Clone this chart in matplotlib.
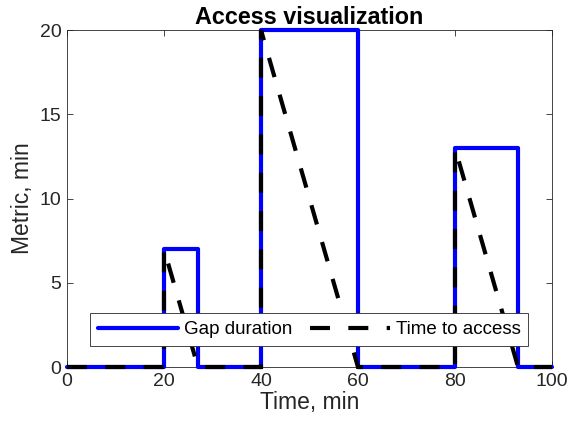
import numpy as np
import matplotlib
matplotlib.use("Agg")
import matplotlib.pyplot as plt

plt.rcParams['font.family'] = ['Liberation Sans', 'DejaVu Sans']

# Coverage gaps: start time (min) and duration (min)
gap_starts = [20, 40, 80]
gap_lengths = [7, 20, 13]
t_end = 100
x_ticks = [0, 20, 40, 60, 80, 100]
y_ticks = [0, 5, 10, 15, 20]

# Build the step series (gap duration) and the saw-tooth (time to access)
tx, gy, ay = [0], [0], [0]
for s, L in zip(gap_starts, gap_lengths):
    tx += [s, s, s + L, s + L]
    gy += [0, L, L, 0]
    ay += [0, L, 0, 0]
tx.append(t_end); gy.append(0); ay.append(0)

fig = plt.figure(figsize=(5.71, 4.29), dpi=100)
ax = fig.add_axes([0.1173, 0.1445, 0.8494, 0.7855])

dark = (0.15, 0.15, 0.15)
ax.plot(tx, gy, color='#0000ff', lw=3, label='Gap duration',
        solid_joinstyle='round', solid_capstyle='round', clip_on=False, zorder=3)
ax.plot(tx, ay, color='black', lw=3, ls=(0, (4.8, 4.4)), label='Time to access',
        dash_joinstyle='miter', clip_on=False, zorder=4)

ax.set_xlim(0, 100)
ax.set_ylim(0, 20)
ax.set_xticks(x_ticks)
ax.set_yticks(y_ticks)
ax.tick_params(direction='in', length=4, width=0.6, colors=dark, labelsize=14,
               top=True, right=True, labeltop=False, labelright=False, pad=4)
for sp in ax.spines.values():
    sp.set_color(dark)
    sp.set_linewidth(0.6)

ax.set_xlabel('Time, min', fontsize=16.5, color=dark, labelpad=1)
ax.set_ylabel('Metric, min', fontsize=16.5, color=dark, labelpad=4)
ax.set_title('Access visualization', fontsize=16.8, fontweight='bold', pad=4)

leg = ax.legend(loc='lower center', bbox_to_anchor=(0.5, 0.062), ncol=2, fontsize=13.5,
                frameon=True, fancybox=False, edgecolor=dark, framealpha=1,
                handlelength=4.27, columnspacing=0.9, borderpad=0.42,
                handletextpad=0.32, borderaxespad=0)
leg.get_frame().set_linewidth(0.6)
leg.set_zorder(5)

fig.savefig('out.png', dpi=100)
